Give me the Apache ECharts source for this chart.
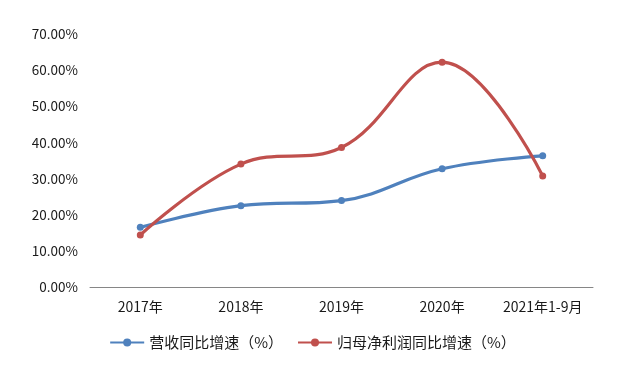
<!DOCTYPE html>
<html><head><meta charset="utf-8">
<script src="https://cdn.jsdelivr.net/npm/echarts@6/dist/echarts.min.js"></script>
<style>html,body{margin:0;padding:0;background:#fff}#c{width:625px;height:372px}</style>
</head><body><div id="c"></div>
<script>
const categories = ['2017年', '2018年', '2019年', '2020年', '2021年1-9月'];
const revenueGrowth = [16.5, 22.5, 23.9, 32.7, 36.3];
const profitGrowth = [14.4, 34.0, 38.6, 62.2, 30.7];
const seriesNames = ['营收同比增速（%）', '归母净利润同比增速（%）'];
const yTicks = { min: 0, max: 70, interval: 10 };

const font = '"Noto Sans CJK SC", "Microsoft YaHei", sans-serif';
const chart = echarts.init(document.getElementById('c'));
chart.setOption({
  animation: false,
  textStyle: { fontFamily: font },
  grid: { left: 90, right: 32, top: 34, bottom: 85 },
  legend: {
    bottom: 17, left: 'center', itemWidth: 34, itemHeight: 10, itemGap: 14,
    textStyle: { fontSize: 15, color: '#1a1a1a', fontFamily: font },
    data: seriesNames
  },
  xAxis: {
    type: 'category', data: categories, boundaryGap: true,
    axisLine: { lineStyle: { color: '#868686', width: 1 } },
    axisTick: { show: false },
    axisLabel: { fontSize: 14, color: '#1a1a1a', margin: 13, fontFamily: font, interval: 0 }
  },
  yAxis: {
    type: 'value', min: yTicks.min, max: yTicks.max, interval: yTicks.interval,
    splitLine: { show: false }, axisLine: { show: false }, axisTick: { show: false },
    axisLabel: { fontSize: 13.5, color: '#1a1a1a', margin: 12, fontFamily: font,
      formatter: v => v.toFixed(2) + '%' }
  },
  series: [
    { name: seriesNames[0], type: 'line', data: revenueGrowth, smooth: 0.4,
      symbol: 'circle', symbolSize: 7,
      lineStyle: { width: 3.2, color: '#4F81BD' }, itemStyle: { color: '#4F81BD' } },
    { name: seriesNames[1], type: 'line', data: profitGrowth, smooth: 0.4,
      symbol: 'circle', symbolSize: 7,
      lineStyle: { width: 3.2, color: '#C0504D' }, itemStyle: { color: '#C0504D' } }
  ]
});
</script></body></html>
